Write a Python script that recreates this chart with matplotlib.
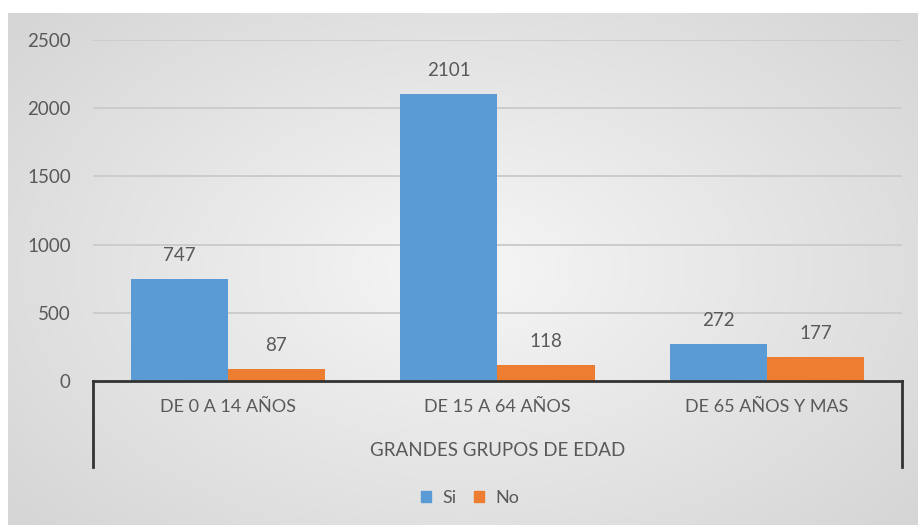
import numpy as np
import matplotlib
matplotlib.use("Agg")
import matplotlib.pyplot as plt
from matplotlib.lines import Line2D
from matplotlib.patches import Patch

categories = ["DE 0 A 14 AÑOS", "DE 15 A 64 AÑOS", "DE 65 AÑOS Y MAS"]
si_values = [747, 2101, 272]
no_values = [87, 118, 177]
series_names = ["Si", "No"]
yticks = [0, 500, 1000, 1500, 2000, 2500]
xlabel = "GRANDES GRUPOS DE EDAD"

W, H = 918, 525
fig = plt.figure(figsize=(W / 100, H / 100), dpi=100)
fig.patch.set_facecolor("white")

# gradient background
bg = fig.add_axes([8 / W, 0, 1 - 8 / W, (H - 13) / H])
bg.set_axis_off()
xx = np.linspace(-1, 1, 400)
yy = np.linspace(-1, 1, 300)
X, Y = np.meshgrid(xx, yy)
R = np.sqrt((X * 0.9) ** 2 + (Y * 0.8) ** 2)
val = 0.965 - 0.14 * np.clip(R, 0, 1.3) / 1.3
img = np.dstack([val, val, val])
bg.imshow(img, aspect="auto", extent=[0, 1, 0, 1], zorder=0)
bg.set_xlim(0, 1)
bg.set_ylim(0, 1)

ax = fig.add_axes([93 / W, (H - 381) / H, 809 / W, (381 - 40) / H])
ax.patch.set_alpha(0)
x = np.arange(len(categories))
bw = 0.36
blue = "#5B9BD5"
orange = "#ED7D31"
b1 = ax.bar(x - bw / 2, si_values, bw, color=blue, zorder=3)
b2 = ax.bar(x + bw / 2, no_values, bw, color=orange, zorder=3)
txt = "#595959"
font = "Lato"
fs_num = 13.5
fs_cat = 13
for bars, vals in ((b1, si_values), (b2, no_values)):
    for r, v in zip(bars, vals):
        ax.annotate(str(v), (r.get_x() + r.get_width() / 2, v), xytext=(0, 17),
                    textcoords="offset points", ha="center", va="center",
                    fontsize=fs_num, color=txt, family=font)

ax.set_xlim(-0.5, 2.5)
ax.set_ylim(0, 2500)
ax.set_yticks(yticks)
ax.set_yticklabels([str(t) for t in yticks], fontsize=fs_num, color=txt, family=font)
ax.tick_params(axis="y", length=0, pad=16)
ax.set_xticks(x)
ax.set_xticklabels(categories, fontsize=fs_cat, color=txt, family=font)
ax.tick_params(axis="x", length=0, pad=13)
for t in yticks[1:]:
    ax.axhline(t, color="#cccccc", lw=1.4, zorder=1)
for s in ["top", "right", "left"]:
    ax.spines[s].set_visible(False)
ax.spines["bottom"].set_color("#333333")
ax.spines["bottom"].set_linewidth(2)
ax.spines["bottom"].set_zorder(4)
depth = -(467 - 381) / (381 - 40)
for xv in (0, 1):
    ax.add_line(Line2D([xv, xv], [0, depth], transform=ax.transAxes, color="#333333",
                       lw=2, clip_on=False))
ax.text(0.5, -(450 - 381) / (381 - 40), xlabel, transform=ax.transAxes, ha="center",
        va="center", fontsize=fs_num, color=txt, family=font)

handles = [Patch(color=blue), Patch(color=orange)]
leg = fig.legend(handles, series_names, loc="center", bbox_to_anchor=(470 / W, 1 - 498 / H),
                 ncol=2, frameon=False, handlelength=0.55, handleheight=0.55,
                 handletextpad=0.6, columnspacing=1.0, prop={"family": font, "size": fs_cat})
for t in leg.get_texts():
    t.set_color(txt)

fig.savefig("out.png", dpi=100)
